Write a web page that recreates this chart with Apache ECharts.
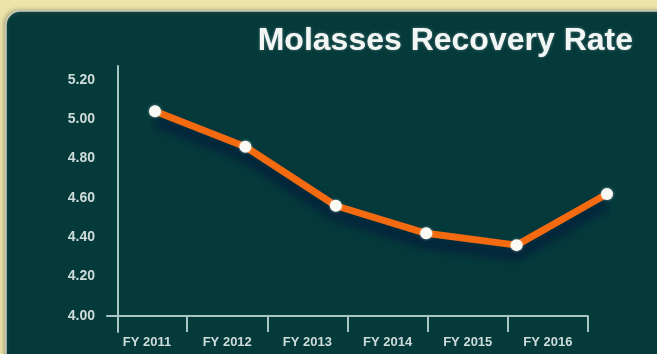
<!DOCTYPE html>
<html>
<head>
<meta charset="utf-8">
<script src="https://cdn.jsdelivr.net/npm/echarts@6/dist/echarts.min.js"></script>
<style>
  html, body { margin: 0; padding: 0; background: #ece4a8; }
  #chart { width: 657px; height: 354px; }
</style>
</head>
<body>
<div id="chart"></div>
<script>
// Fiscal years and molasses recovery rate (%)
const years = ['FY 2011', 'FY 2012', 'FY 2013', 'FY 2014', 'FY 2015', 'FY 2016'];
const recoveryRate = [5.04, 4.86, 4.56, 4.42, 4.36, 4.62];
const yTicks = [4.0, 4.2, 4.4, 4.6, 4.8, 5.0, 5.2];

// Value range of the plot: the vertical axis runs a little past 5.20 at the
// top and past 4.00 at the bottom, where it crosses the category axis.
const yMin = 3.9187;
const yMax = 5.27;

const axisColor = '#a9c6c4';
const labelColor = '#cfdcda';
const fontFamily = '"Liberation Sans", Arial, sans-serif';

const chart = echarts.init(document.getElementById('chart'));

chart.setOption({
  backgroundColor: '#ece4a8',
  animation: false,
  graphic: [{
    type: 'rect',
    z: -10,
    shape: { x: 6, y: 11, width: 720, height: 420, r: 14 },
    style: {
      fill: '#053a3b',
      stroke: '#c9ccbc',
      lineWidth: 1.5,
      shadowColor: 'rgba(120,120,100,0.6)',
      shadowBlur: 4,
      shadowOffsetX: -1
    }
  }],
  title: {
    text: 'Molasses Recovery Rate',
    right: 19,
    top: 20,
    textStyle: {
      color: '#f2f6f5',
      fontSize: 32,
      fontWeight: 'bold',
      fontFamily: fontFamily,
      textShadowColor: 'rgba(255,255,255,0.35)',
      textShadowBlur: 3
    }
  },
  grid: [
    { left: 107, right: 69, top: 66, bottom: 22 },
    { left: 155, right: 50, top: 66, bottom: 22 }
  ],
  xAxis: [{
    type: 'category',
    gridIndex: 0,
    data: years,
    boundaryGap: true,
    offset: -16,
    axisLine: { show: true, lineStyle: { color: axisColor, width: 2 } },
    axisTick: {
      show: true,
      interval: (index) => index !== 0,
      length: 16,
      lineStyle: { color: axisColor, width: 2 }
    },
    axisLabel: {
      interval: 0,
      margin: 20,
      color: labelColor,
      fontSize: 13,
      fontWeight: 'bold',
      fontFamily: fontFamily
    },
    splitLine: { show: false }
  }, {
    type: 'category',
    gridIndex: 1,
    data: years,
    boundaryGap: false,
    show: false
  }],
  yAxis: [{
    type: 'value',
    gridIndex: 0,
    min: yMin,
    max: yMax,
    offset: -11,
    axisLine: { show: true, lineStyle: { color: axisColor, width: 2 } },
    axisTick: { show: false },
    axisLabel: {
      customValues: yTicks,
      formatter: v => v.toFixed(2),
      margin: 23,
      padding: [0, 0, 6, 0],
      color: labelColor,
      fontSize: 14,
      fontWeight: 'bold',
      fontFamily: fontFamily
    },
    splitLine: { show: false }
  }, {
    type: 'value',
    gridIndex: 1,
    min: yMin,
    max: yMax,
    show: false,
    splitLine: { show: false }
  }],
  series: [{
    type: 'line',
    xAxisIndex: 1,
    yAxisIndex: 1,
    data: recoveryRate,
    symbol: 'circle',
    symbolSize: 12,
    lineStyle: {
      color: '#f36a10',
      width: 7,
      shadowColor: 'rgba(0,12,60,0.85)',
      shadowBlur: 12,
      shadowOffsetY: 9
    },
    itemStyle: {
      color: '#fbfbf6',
      borderWidth: 0,
      shadowColor: 'rgba(255,255,255,0.5)',
      shadowBlur: 3
    },
    z: 5
  }]
});
</script>
</body>
</html>
